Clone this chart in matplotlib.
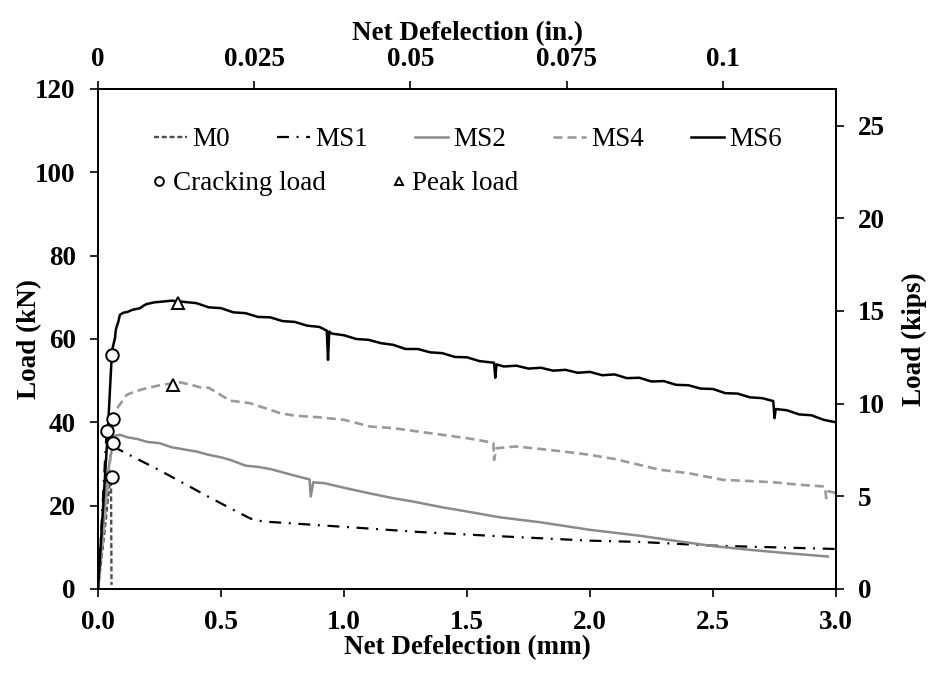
import matplotlib
matplotlib.use("Agg")
import matplotlib.pyplot as plt

plt.rcParams['font.family'] = ['Liberation Serif', 'DejaVu Serif']
plt.rcParams['lines.scale_dashes'] = False

KN_PER_KIP = 4.448
MM_PER_IN = 25.4

# load-deflection curves, deflection in mm, load in kN
m0_x = [0.0, 0.025, 0.05, 0.053, 0.054, 0.055]
m0_y = [0.0, 13.0, 26.9, 24.0, 12.0, 1.0]

ms1_x = [0.0, 0.015, 0.035, 0.045, 0.061, 0.15, 0.25, 0.35, 0.45, 0.55, 0.62,
         0.67, 0.75, 0.9, 1.08, 1.3, 1.62, 2.0, 2.2, 2.5, 2.75, 3.0]
ms1_y = [0.0, 16.0, 38.0, 36.8, 34.2, 31.5, 28.5, 25.3, 22.1, 19.0, 16.9,
         16.2, 15.9, 15.3, 14.6, 13.7, 12.7, 11.6, 11.3, 10.4, 10.0, 9.6]

ms2_x = [0.0, 0.02, 0.04, 0.055, 0.06, 0.07, 0.09, 0.12, 0.16, 0.2, 0.25, 0.3,
         0.35, 0.4, 0.45, 0.5, 0.537, 0.6, 0.65, 0.7, 0.75, 0.8, 0.86, 0.865,
         0.875, 0.92, 1.0, 1.1, 1.2, 1.28, 1.4, 1.5, 1.634, 1.8, 2.0, 2.2,
         2.366, 2.5, 2.65, 2.8, 2.967]
ms2_y = [0.0, 14.0, 28.0, 33.0, 35.1, 36.8, 37.0, 36.4, 36.0, 35.3, 35.0, 34.0,
         33.5, 33.0, 32.2, 31.6, 31.0, 29.6, 29.3, 28.8, 28.0, 27.2, 26.3, 22.2,
         25.6, 25.4, 24.3, 23.0, 21.8, 21.0, 19.6, 18.6, 17.2, 16.0, 14.2, 12.8,
         11.4, 10.3, 9.4, 8.6, 7.8]

ms4_x = [0.0, 0.02, 0.04, 0.055, 0.06, 0.07, 0.083, 0.117, 0.15, 0.198, 0.259,
         0.333, 0.38, 0.415, 0.45, 0.509, 0.537, 0.618, 0.7, 0.74, 0.8, 0.9,
         1.0, 1.106, 1.2, 1.3, 1.4, 1.5, 1.607, 1.61, 1.62, 1.7, 1.8, 1.89,
         2.0, 2.1, 2.2, 2.285, 2.4, 2.54, 2.65, 2.75, 2.854, 2.955, 2.96,
         2.97, 3.0]
ms4_y = [0.0, 12.0, 25.0, 35.0, 40.7, 42.5, 43.8, 46.6, 47.4, 48.2, 49.0,
         49.6, 49.0, 48.4, 48.3, 46.2, 45.2, 44.6, 43.0, 42.2, 41.6, 41.2,
         40.6, 39.0, 38.6, 37.8, 37.0, 36.2, 35.1, 31.0, 33.8, 34.2, 33.6, 33.0,
         32.2, 31.2, 29.8, 28.6, 27.8, 26.2, 25.9, 25.6, 25.0, 24.6, 21.8,
         23.5, 23.0]

ms6_x = [0.0, 0.02, 0.04, 0.056, 0.06, 0.069, 0.072, 0.076, 0.082, 0.089,
         0.103, 0.12, 0.14, 0.171, 0.185, 0.198, 0.23, 0.266, 0.3, 0.35, 0.4,
         0.45, 0.5, 0.55, 0.6, 0.65, 0.7, 0.75, 0.8, 0.85, 0.9, 0.93, 0.935,
         0.94, 0.95, 1.0, 1.05, 1.1, 1.15, 1.2, 1.25, 1.3, 1.35, 1.4, 1.45,
         1.5, 1.55, 1.61, 1.615, 1.62, 1.65, 1.7, 1.75, 1.8, 1.85, 1.9, 1.95,
         2.0, 2.05, 2.1, 2.15, 2.2, 2.25, 2.3, 2.35, 2.4, 2.45, 2.5, 2.55,
         2.6, 2.65, 2.7, 2.745, 2.75, 2.755, 2.8, 2.85, 2.9, 2.95, 3.0]
ms6_y = [0.0, 19.0, 38.0, 56.2, 58.0, 60.2, 62.0, 63.0, 64.0, 65.8,
         66.3, 66.5, 67.0, 67.4, 68.0, 68.4, 68.8, 69.0, 69.2, 68.9, 68.6,
         67.6, 67.4, 66.4, 66.2, 65.3, 65.2, 64.3, 64.1, 63.2, 62.9, 62.0, 55.0,
         61.8, 61.3, 60.9, 60.0, 59.8, 59.0, 58.6, 57.6, 57.6, 56.8, 56.6, 55.7,
         55.6, 54.7, 54.3, 50.7, 53.9, 53.4, 53.6, 52.9, 53.1, 52.4, 52.6, 51.9,
         52.1, 51.3, 51.5, 50.6, 50.7, 49.8, 49.9, 49.0, 48.9, 48.1, 48.0, 47.0,
         46.9, 46.0, 45.8, 45.1, 41.0, 43.2, 42.9, 41.9, 41.7, 40.6, 40.0]

# cracking and peak loads
crack_x = [0.056, 0.06, 0.035, 0.06, 0.055]
crack_y = [56.2, 40.7, 38.0, 35.1, 26.9]
peak_x = [0.327, 0.306]
peak_y = [68.6, 49.0]

x_ticks = [0.0, 0.5, 1.0, 1.5, 2.0, 2.5, 3.0]
y_ticks = [0, 20, 40, 60, 80, 100, 120]
kip_ticks = [0, 5, 10, 15, 20, 25]
in_ticks = [0, 0.025, 0.05, 0.075, 0.1]
in_labels = ['0', '0.025', '0.05', '0.075', '0.1']

FS = 19.5

fig = plt.figure(figsize=(9.32, 6.75), dpi=100)
ax = fig.add_axes([98 / 932, 86 / 675, 738 / 932, 500 / 675])

l_m0, = ax.plot(m0_x, m0_y, color='#4d4d4d', lw=1.7, dashes=(3.6, 2.0), label='M0')
l_ms1, = ax.plot(ms1_x, ms1_y, color='black', lw=1.6,
                 dashes=(8.6, 5.5, 1.4, 5.5), label='MS1')
l_ms2, = ax.plot(ms2_x, ms2_y, color='#8a8a8a', lw=1.8, label='MS2')
l_ms4, = ax.plot(ms4_x, ms4_y, color='#9a9a9a', lw=1.9, dashes=(6.5, 3.6), label='MS4')
l_ms6, = ax.plot(ms6_x, ms6_y, color='black', lw=1.8, label='MS6')

h_crack, = ax.plot(crack_x, crack_y, ls='none', marker='o', ms=9, mfc='white',
                   mec='black', mew=1.4, zorder=5, label='Cracking load')
h_peak, = ax.plot(peak_x, peak_y, ls='none', marker='^', ms=9, mfc='white',
                  mec='black', mew=1.4, zorder=5, label='Peak load')

ax.set_xlim(0, 3)
ax.set_ylim(0, 120)
ax.set_xticks(x_ticks)
ax.set_xticklabels(['%.1f' % v for v in x_ticks])
ax.set_yticks(y_ticks)
ax.tick_params(direction='out', length=6, width=1.2, pad=10, labelsize=FS)
ax.tick_params(axis='x', pad=9)
for s in ax.spines.values():
    s.set_linewidth(1.3)
for lab in ax.get_xticklabels() + ax.get_yticklabels():
    lab.set_fontweight('bold')

ax.set_xlabel('Net Defelection (mm)', fontsize=FS, fontweight='bold')
ax.set_ylabel('Load (kN)', fontsize=FS, fontweight='bold')
ax.xaxis.set_label_coords(0.5, -0.092)
ax.yaxis.set_label_coords(-0.076, 0.5)

# right axis in kips
ax2 = ax.twinx()
ax2.set_ylim(0, 120 / KN_PER_KIP)
ax2.set_yticks(kip_ticks)
ax2.tick_params(direction='out', length=6, width=1.2, pad=10, labelsize=FS)
for lab in ax2.get_yticklabels():
    lab.set_fontweight('bold')
ax2.set_ylabel('Load (kips)', fontsize=FS, fontweight='bold')
ax2.yaxis.set_label_coords(1.089, 0.5)
for s in ax2.spines.values():
    s.set_linewidth(1.3)

# top axis in inches
top = ax.secondary_xaxis('top', functions=(lambda v: v / MM_PER_IN, lambda v: v * MM_PER_IN))
top.set_xticks(in_ticks)
top.set_xticklabels(in_labels)
top.tick_params(direction='out', length=6, width=1.2, pad=6, labelsize=FS)
for lab in top.get_xticklabels():
    lab.set_fontweight('bold')
top.set_xlabel('Net Defelection (in.)', fontsize=FS, fontweight='bold')
top.xaxis.set_label_coords(0.5, 1.098, transform=ax.transAxes)
top.spines['top'].set_linewidth(1.3)

leg1 = ax.legend(handles=[l_m0, l_ms1, l_ms2, l_ms4, l_ms6], ncol=5, loc='center left',
                 bbox_to_anchor=(0.076, 0.898), frameon=False, fontsize=FS,
                 handlelength=1.2, handletextpad=0.2, columnspacing=1.75,
                 borderpad=0, borderaxespad=0)
ax.add_artist(leg1)
ax.legend(handles=[h_crack, h_peak], ncol=2, loc='center left',
          bbox_to_anchor=(0.072, 0.81), frameon=False, fontsize=FS,
          handlelength=0.6, handletextpad=0.2, columnspacing=2.4,
          borderpad=0, borderaxespad=0, markerscale=0.7, numpoints=1)

fig.savefig('out.png', dpi=100)
